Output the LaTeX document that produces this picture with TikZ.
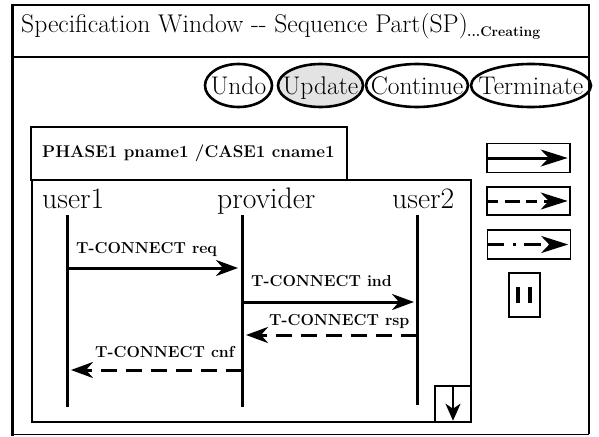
\documentclass[tikz,border=0pt]{standalone}
\usepackage{fontspec}
\usetikzlibrary{arrows.meta}
\begin{document}
\begin{tikzpicture}[x=1pt,y=-1pt,
  frameline/.style={line width=2pt},
  boxline/.style={draw, line width=1.4pt},
  btnline/.style={line width=2.6pt},
  btntext/.style={inner sep=0pt, anchor=base, font=\fontsize{25.5}{29}\selectfont},
  lifelabel/.style={inner sep=0pt, anchor=base west, font=\fontsize{29.7}{34}\selectfont},
  msglabel/.style={inner sep=0pt, anchor=base west, font=\fontsize{15.9}{19}\selectfont\bfseries},
  lifeline/.style={line width=3pt},
  msg/.style={line width=3pt, -{Stealth[length=22pt,width=16pt,inset=7pt]}},
  dashmsg/.style={msg, dash pattern=on 16pt off 9pt},
  legbox/.style={draw, line width=1.4pt, minimum width=83pt, minimum height=29pt, inner sep=0pt},
  legarrow/.style={line width=3pt, -{Stealth[length=27pt,width=17pt,inset=8pt]}, shorten >=3pt}
]
\useasboundingbox (0,0) rectangle (599,436);

% outer window frame
\draw[frameline] (12,5) -- (589,5) -- (589,434);
\draw[line width=3pt] (12,4) -- (12,436);
\draw[line width=0.8pt] (12,434) -- (589,434);
\draw[frameline] (12,57) -- (589,57);

% title
\node[inner sep=0pt, anchor=base west, font=\fontsize{25.6}{29}\selectfont] (title) at (21,33) {Specification Window -{}- Sequence Part(SP)};
\node[inner sep=0pt, anchor=base west, font=\fontsize{14}{16}\selectfont\bfseries] (creating) at (467,37) {...Creating};

% buttons
\node[btntext] (undo) at (238.5,94) {Undo};
\draw[btnline] (238.5,85.5) ellipse [x radius=33.5, y radius=21.5];
\fill[gray!22] (320.5,85.5) ellipse [x radius=42.5, y radius=21.5];
\node[btntext] (update) at (320.5,94) {Update};
\draw[btnline] (320.5,85.5) ellipse [x radius=42.5, y radius=21.5];
\node[btntext] (continue) at (417,94) {Continue};
\draw[btnline] (417,85.5) ellipse [x radius=51, y radius=21.5];
\node[btntext] (terminate) at (531,94) {Terminate};
\draw[btnline] (531,85.5) ellipse [x radius=60, y radius=21.5];

% phase tab and sequence area
\draw[boxline] (31,127) rectangle (347,180);
\node[inner sep=0pt, anchor=base west, font=\fontsize{17}{20}\selectfont\bfseries] (phase) at (42,157) {PHASE1 pname1 /CASE1 cname1};
\draw[boxline] (32,180) rectangle (471,422);

% lifelines
\node[lifelabel] (user1) at (42,208) {user1};
\node[lifelabel] (provider) at (217,208) {provider};
\node[lifelabel] (user2) at (392,208) {user2};
\coordinate (u1t) at (67,215);  \coordinate (u1b) at (67,407);
\coordinate (pt) at (242,215);  \coordinate (pb) at (242,407);
\coordinate (u2t) at (417,215); \coordinate (u2b) at (417,405);
\draw[lifeline] (u1t) -- (u1b);
\draw[lifeline] (pt) -- (pb);
\draw[lifeline] (u2t) -- (u2b);

% messages
\coordinate (m1a) at (67,268);  \coordinate (m1b) at (242,268);
\coordinate (m2a) at (242,302); \coordinate (m2b) at (417,302);
\coordinate (m3a) at (417,335); \coordinate (m3b) at (242,335);
\coordinate (m4a) at (242,370); \coordinate (m4b) at (67,370);
\draw[msg, shorten >=4pt] (m1a) -- (m1b);
\draw[msg, shorten >=3pt] (m2a) -- (m2b);
\draw[dashmsg, shorten >=4pt] (m3a) -- (m3b);
\draw[dashmsg, shorten >=4pt] (m4a) -- (m4b);
\node[msglabel] (l1) at (76,253) {T-CONNECT req};
\node[msglabel] (l2) at (251,286) {T-CONNECT ind};
\node[msglabel] (l3) at (269,325) {T-CONNECT rsp};
\node[msglabel] (l4) at (95,357) {T-CONNECT cnf};

% scroll button
\node[draw, line width=1.4pt, minimum width=36pt, minimum height=36pt, inner sep=0pt] (scroll) at (453,404) {};
\draw[line width=2pt, -{Stealth[length=17pt,width=15pt,inset=5pt]}] (scroll.north) -- ([yshift=2pt]scroll.south);

% legend
\node[legbox] (solid) at (528.5,158) {};
\node[legbox, minimum height=28pt] (dashbox) at (528.5,201) {};
\node[legbox] (dotbox) at (529,244.5) {};
\draw[legarrow] (solid.west) -- (solid.east);
\draw[legarrow, dash pattern=on 11pt off 7pt on 15pt off 6pt] ([xshift=1pt]dashbox.west) -- (dashbox.east);
\draw[legarrow, dash pattern=on 17pt off 9pt on 3pt off 8pt] (dotbox.west) -- (dotbox.east);

% pause button
\node[draw, line width=1.4pt, minimum width=31pt, minimum height=44pt, inner sep=0pt] (pause) at (524.5,295) {};
\draw[line width=4pt] ([xshift=-6.5pt,yshift=8pt]pause.center) -- ([xshift=-6.5pt,yshift=-8pt]pause.center);
\draw[line width=4pt] ([xshift=5.5pt,yshift=8pt]pause.center) -- ([xshift=5.5pt,yshift=-8pt]pause.center);
\end{tikzpicture}
\end{document}
